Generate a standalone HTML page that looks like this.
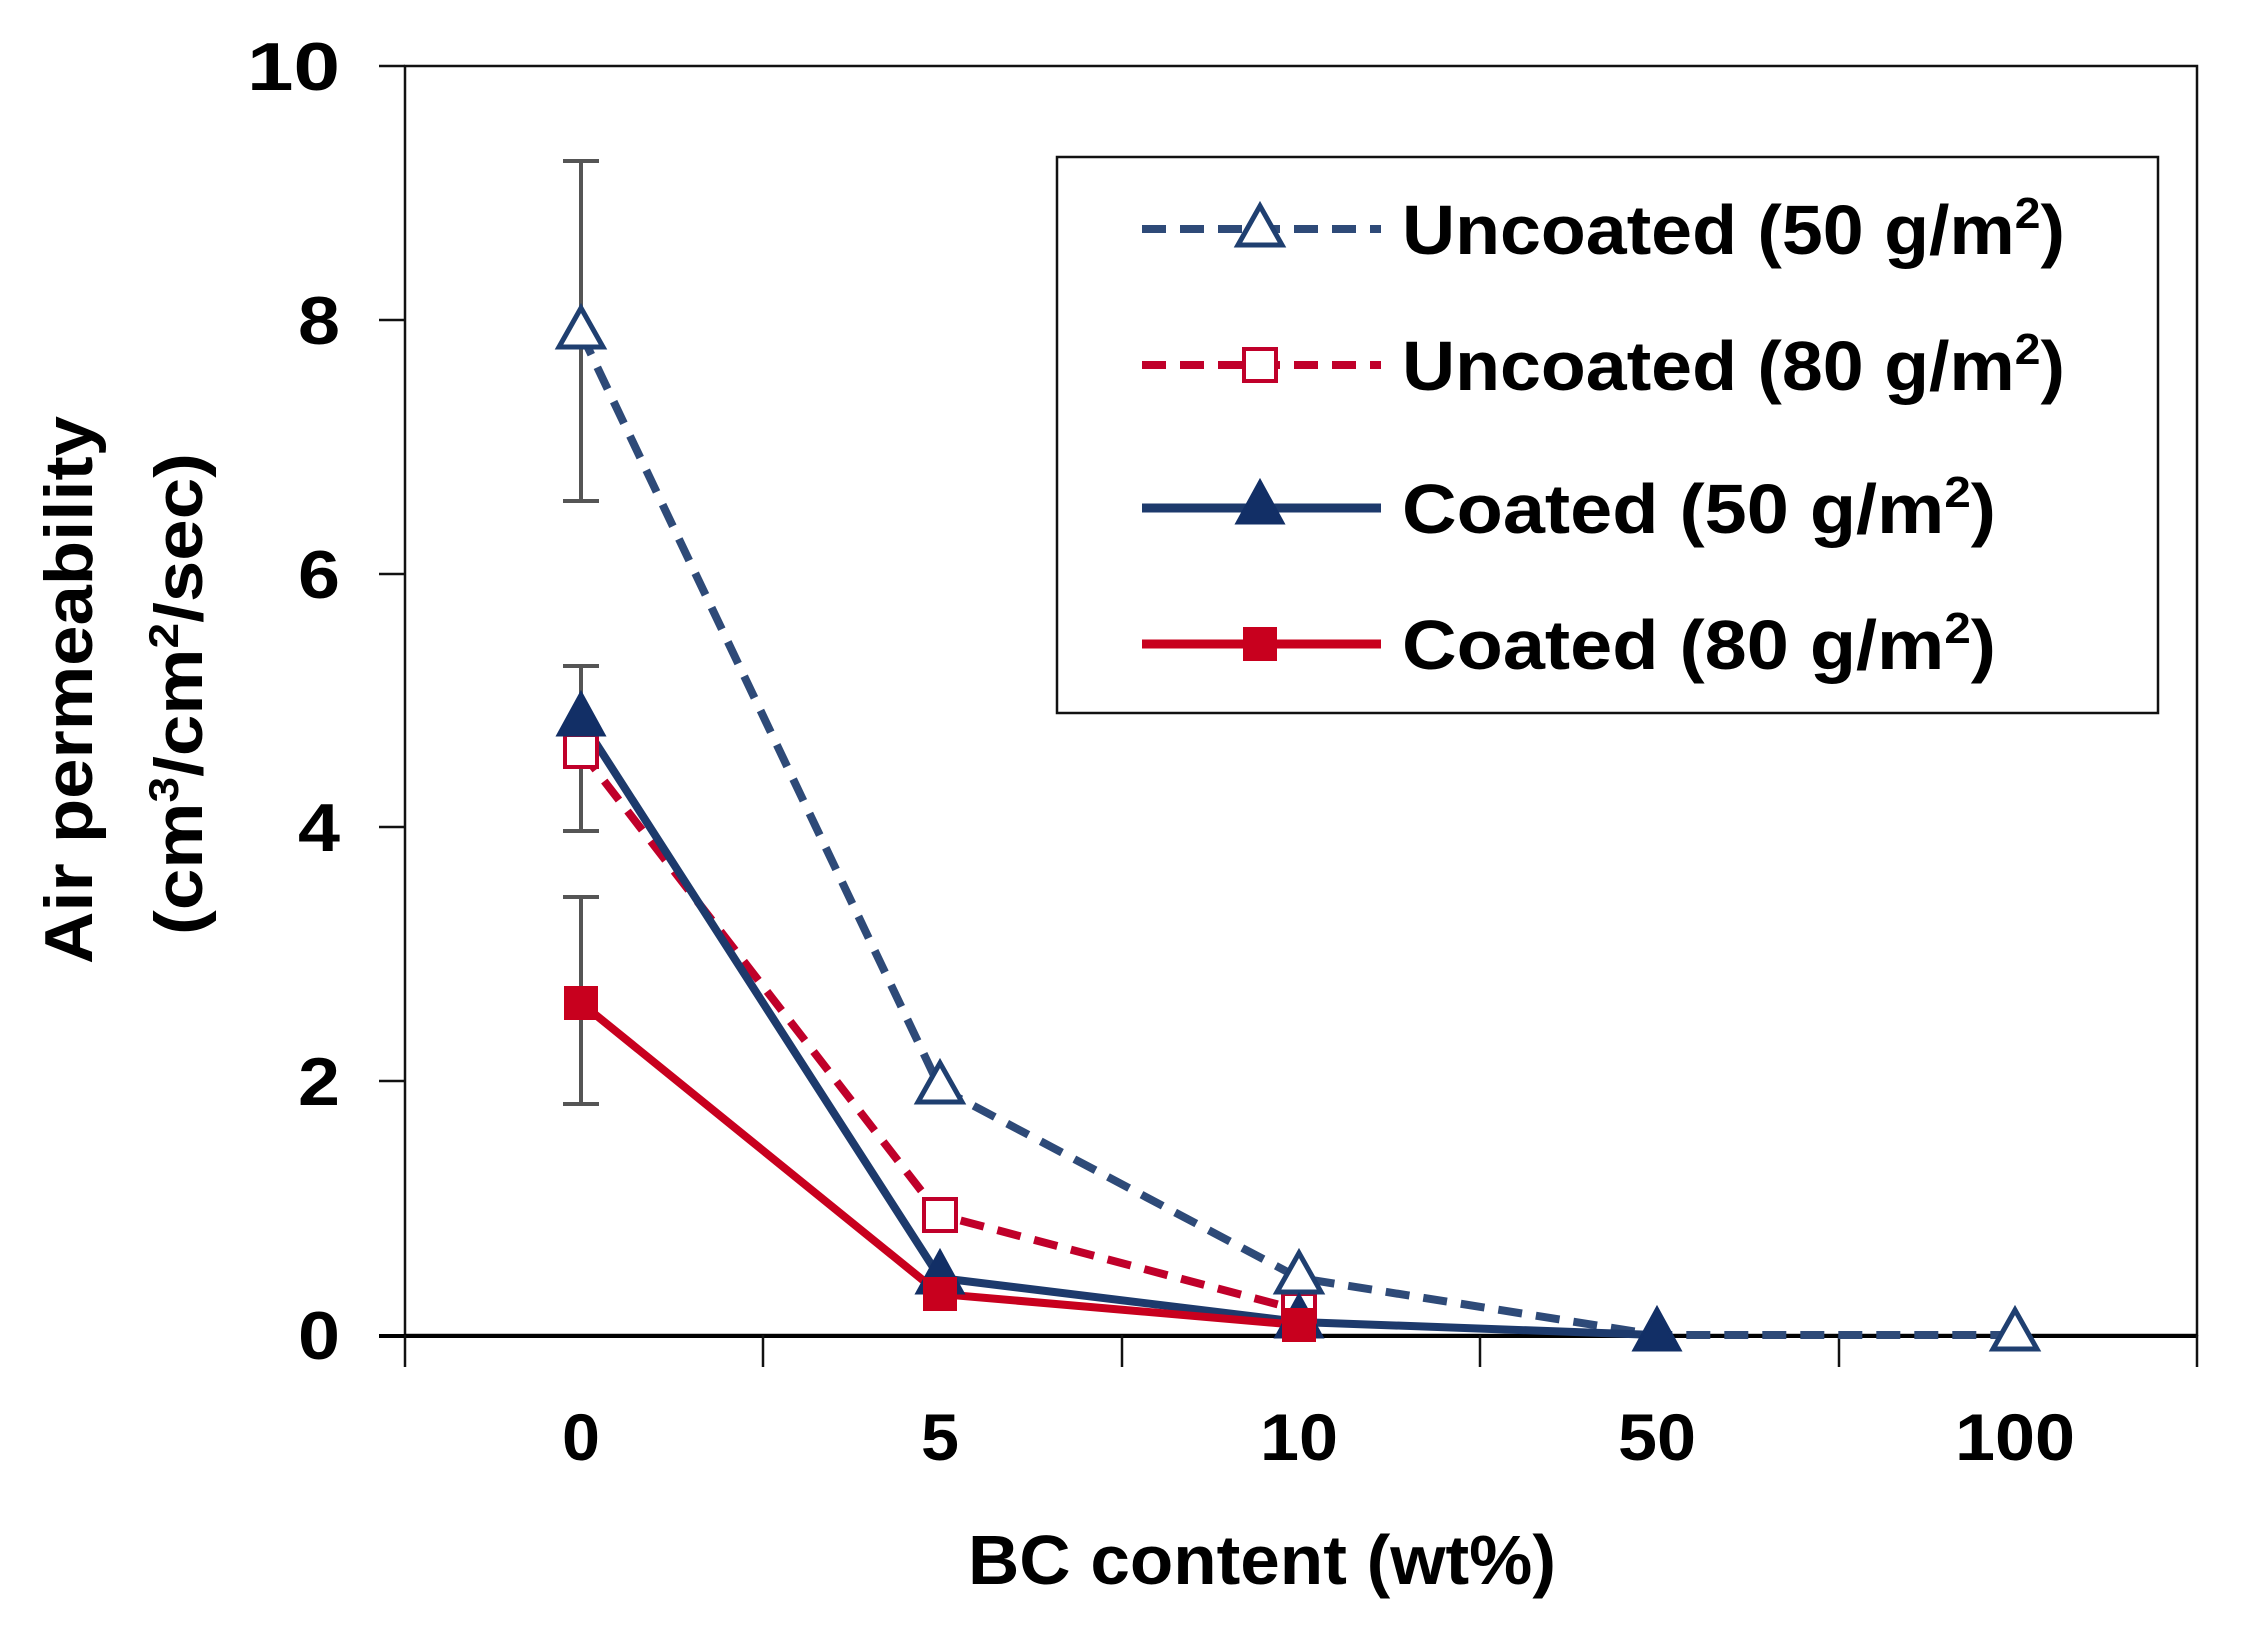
<!DOCTYPE html>
<html><head><meta charset="utf-8"><style>
html,body{margin:0;padding:0;background:#fff;}
svg{display:block;}
</style></head><body>
<svg width="2244" height="1626" viewBox="0 0 2244 1626" xmlns="http://www.w3.org/2000/svg">
<defs>
<g id="triO"><polygon points="0,-25 -22,14 22,14" fill="#fff" stroke="#1f3f70" stroke-width="5"/></g>
<g id="triF"><polygon points="0,-27 -23,15 23,15" fill="#122f66" stroke="#122f66" stroke-width="3"/></g>
<g id="sqO"><rect x="-16" y="-16" width="32" height="32" fill="#fff" stroke="#c0002a" stroke-width="4"/></g>
<g id="sqF"><rect x="-17" y="-17" width="34" height="34" fill="#c8001e"/></g>
</defs>
<rect x="405" y="66" width="1792" height="1269" fill="none" stroke="#111" stroke-width="2.5"/>
<line x1="379" y1="1336" x2="2197" y2="1336" stroke="#000" stroke-width="4"/>
<g stroke="#111" stroke-width="2.5">
<line x1="379" y1="66" x2="405" y2="66"/>
<line x1="379" y1="320" x2="405" y2="320"/>
<line x1="379" y1="574" x2="405" y2="574"/>
<line x1="379" y1="827" x2="405" y2="827"/>
<line x1="379" y1="1081" x2="405" y2="1081"/>
<line x1="405" y1="1335" x2="405" y2="1367"/>
<line x1="763" y1="1335" x2="763" y2="1367"/>
<line x1="1122" y1="1335" x2="1122" y2="1367"/>
<line x1="1480" y1="1335" x2="1480" y2="1367"/>
<line x1="1839" y1="1335" x2="1839" y2="1367"/>
<line x1="2197" y1="1335" x2="2197" y2="1367"/>
</g>
<g font-family="'Liberation Sans',sans-serif" font-weight="bold" font-size="68" fill="#000" text-anchor="end">
<text x="340" y="90" textLength="93" lengthAdjust="spacingAndGlyphs">10</text>
<text x="340" y="344" textLength="42" lengthAdjust="spacingAndGlyphs">8</text>
<text x="340" y="598" textLength="42" lengthAdjust="spacingAndGlyphs">6</text>
<text x="340" y="851" textLength="42" lengthAdjust="spacingAndGlyphs">4</text>
<text x="340" y="1105" textLength="42" lengthAdjust="spacingAndGlyphs">2</text>
<text x="340" y="1359" textLength="42" lengthAdjust="spacingAndGlyphs">0</text>
</g>
<g font-family="'Liberation Sans',sans-serif" font-weight="bold" font-size="66" fill="#000" text-anchor="middle">
<text x="581" y="1460" textLength="38" lengthAdjust="spacingAndGlyphs">0</text>
<text x="940" y="1460" textLength="38" lengthAdjust="spacingAndGlyphs">5</text>
<text x="1299" y="1460" textLength="78" lengthAdjust="spacingAndGlyphs">10</text>
<text x="1657" y="1460" textLength="78" lengthAdjust="spacingAndGlyphs">50</text>
<text x="2015" y="1460" textLength="120" lengthAdjust="spacingAndGlyphs">100</text>
</g>
<text x="1262" y="1584" text-anchor="middle" font-family="'Liberation Sans',sans-serif" font-weight="bold" font-size="70" textLength="588" lengthAdjust="spacingAndGlyphs">BC content (wt%)</text>
<g font-family="'Liberation Sans',sans-serif" font-weight="bold" font-size="68" text-anchor="middle">
<text transform="translate(92,690) rotate(-90)" textLength="548" lengthAdjust="spacingAndGlyphs">Air permeability</text>
<text transform="translate(202,694) rotate(-90)" textLength="482" lengthAdjust="spacingAndGlyphs">(cm<tspan font-size="42" dy="-24">3</tspan><tspan dy="24">/cm</tspan><tspan font-size="42" dy="-24">2</tspan><tspan dy="24">/sec)</tspan></text>
</g>
<g stroke="#555" stroke-width="4">
<line x1="581" y1="161" x2="581" y2="501"/><line x1="563" y1="161" x2="599" y2="161"/><line x1="563" y1="501" x2="599" y2="501"/>
<line x1="581" y1="666" x2="581" y2="831"/><line x1="563" y1="666" x2="599" y2="666"/><line x1="563" y1="831" x2="599" y2="831"/>
<line x1="581" y1="897" x2="581" y2="1104"/><line x1="563" y1="897" x2="599" y2="897"/><line x1="563" y1="1104" x2="599" y2="1104"/>
</g>
<polyline points="581,333 940,1088 1299,1278 1657,1335 2015,1335" fill="none" stroke="#2e4a78" stroke-width="8" stroke-dasharray="24,14"/>
<polyline points="581,751 940,1215 1299,1310" fill="none" stroke="#c0002a" stroke-width="8" stroke-dasharray="24,14"/>
<polyline points="581,720 940,1278 1299,1322 1657,1335" fill="none" stroke="#1d3a6c" stroke-width="8"/>
<polyline points="581,1003 940,1294 1299,1325" fill="none" stroke="#c8001e" stroke-width="8"/>
<use href="#sqO" x="581" y="751"/><use href="#sqO" x="940" y="1215"/><use href="#sqO" x="1299" y="1310"/>
<use href="#triO" x="581" y="333"/><use href="#triO" x="940" y="1088"/><use href="#triO" x="1299" y="1278"/><use href="#triO" x="2015" y="1335"/>
<use href="#triF" x="581" y="720"/><use href="#triF" x="940" y="1278"/><use href="#triF" x="1299" y="1322"/><use href="#triF" x="1657" y="1335"/>
<use href="#sqF" x="581" y="1003"/><use href="#sqF" x="940" y="1294"/><use href="#sqF" x="1299" y="1325"/>
<rect x="1057" y="157" width="1101" height="556" fill="#fff" stroke="#111" stroke-width="2.5"/>
<line x1="1142" y1="229" x2="1381" y2="229" stroke="#2e4a78" stroke-width="8" stroke-dasharray="24,14"/>
<use href="#triO" x="1260" y="231"/>
<line x1="1142" y1="365" x2="1381" y2="365" stroke="#c0002a" stroke-width="8" stroke-dasharray="24,14"/>
<use href="#sqO" x="1260" y="365"/>
<line x1="1142" y1="508" x2="1381" y2="508" stroke="#1d3a6c" stroke-width="9"/>
<use href="#triF" x="1260" y="508"/>
<line x1="1142" y1="644" x2="1381" y2="644" stroke="#c8001e" stroke-width="9"/>
<use href="#sqF" x="1260" y="644"/>
<g font-family="'Liberation Sans',sans-serif" font-weight="bold" font-size="70" fill="#000">
<text x="1402" y="254" textLength="663" lengthAdjust="spacingAndGlyphs">Uncoated (50 g/m<tspan font-size="44" dy="-26">2</tspan><tspan dy="26">)</tspan></text>
<text x="1402" y="390" textLength="663" lengthAdjust="spacingAndGlyphs">Uncoated (80 g/m<tspan font-size="44" dy="-26">2</tspan><tspan dy="26">)</tspan></text>
<text x="1402" y="533" textLength="594" lengthAdjust="spacingAndGlyphs">Coated  (50 g/m<tspan font-size="44" dy="-26">2</tspan><tspan dy="26">)</tspan></text>
<text x="1402" y="669" textLength="594" lengthAdjust="spacingAndGlyphs">Coated  (80 g/m<tspan font-size="44" dy="-26">2</tspan><tspan dy="26">)</tspan></text>
</g>
</svg>
</body></html>
